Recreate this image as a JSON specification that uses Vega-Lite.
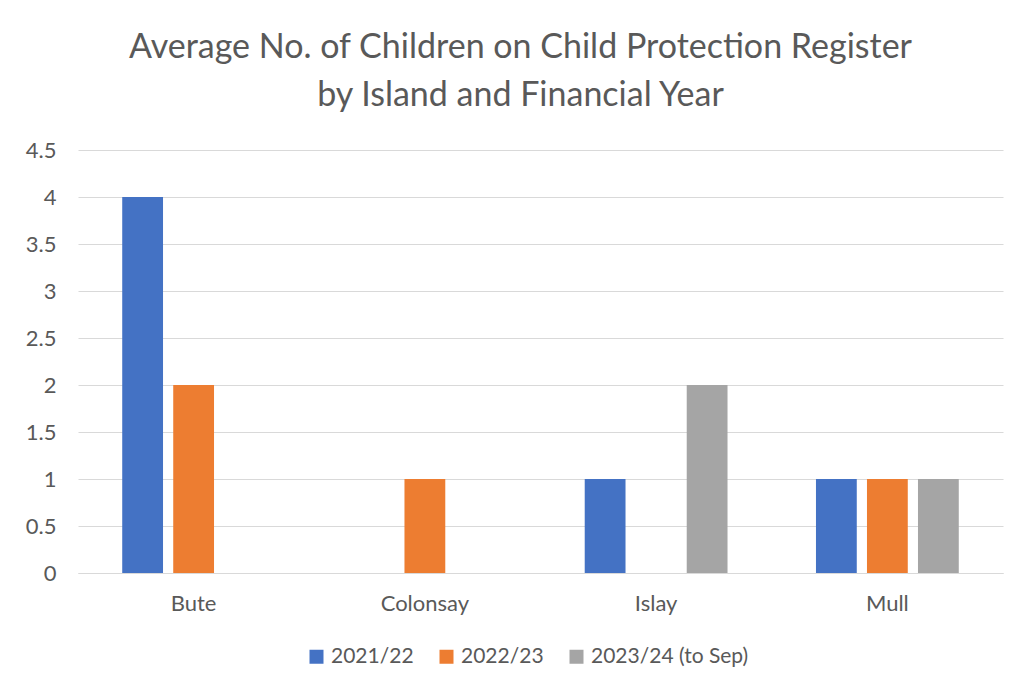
{
  "$schema": "https://vega.github.io/schema/vega-lite/v6.json",
  "autosize": {"type": "none"},
  "width": 925,
  "height": 423,
  "padding": {"left": 78, "top": 150, "right": 33, "bottom": 122},
  "background": "white",
  "title": {
    "text": ["Average No. of Children on Child Protection Register", "by Island and Financial Year"],
    "font": "Lato",
    "fontSize": 34,
    "fontWeight": "normal",
    "color": "#595959",
    "anchor": "middle",
    "dx": -20,
    "offset": 26,
    "lineHeight": 48
  },
  "data": {
    "values": [
      {"island": "Bute", "year": "2021/22", "value": 4},
      {"island": "Bute", "year": "2022/23", "value": 2},
      {"island": "Colonsay", "year": "2022/23", "value": 1},
      {"island": "Islay", "year": "2021/22", "value": 1},
      {"island": "Islay", "year": "2023/24 (to Sep)", "value": 2},
      {"island": "Mull", "year": "2021/22", "value": 1},
      {"island": "Mull", "year": "2022/23", "value": 1},
      {"island": "Mull", "year": "2023/24 (to Sep)", "value": 1}
    ]
  },
  "mark": {"type": "bar"},
  "encoding": {
    "x": {
      "field": "island",
      "type": "nominal",
      "sort": ["Bute", "Colonsay", "Islay", "Mull"],
      "scale": {"paddingInner": 0, "paddingOuter": 0},
      "axis": {
        "title": null,
        "labelAngle": 0,
        "ticks": false,
        "labelPadding": 20,
        "labelFont": "Lato",
        "labelFontSize": 22,
        "labelColor": "#595959",
        "domainColor": "#d9d9d9",
        "grid": false
      }
    },
    "xOffset": {
      "field": "year",
      "type": "nominal",
      "scale": {"domain": ["2021/22", "2022/23", "2023/24 (to Sep)"], "paddingInner": 0.2, "paddingOuter": 0.867}
    },
    "y": {
      "field": "value",
      "type": "quantitative",
      "scale": {"domain": [0, 4.5]},
      "axis": {
        "title": null,
        "values": [0, 0.5, 1, 1.5, 2, 2.5, 3, 3.5, 4, 4.5],
        "format": "~g",
        "ticks": false,
        "domain": false,
        "labelPadding": 22,
        "labelFont": "Lato",
        "labelFontSize": 22,
        "labelColor": "#595959",
        "gridColor": "#d9d9d9"
      }
    },
    "color": {
      "field": "year",
      "type": "nominal",
      "scale": {"domain": ["2021/22", "2022/23", "2023/24 (to Sep)"], "range": ["#4472C4", "#ED7D31", "#A5A5A5"]},
      "legend": {
        "orient": "none",
        "legendX": 228,
        "legendY": 496,
        "direction": "horizontal",
        "title": null,
        "symbolType": "square",
        "symbolSize": 196,
        "symbolStrokeWidth": 0,
        "labelOffset": 4,
        "labelLimit": 400,
        "labelFont": "Lato",
        "labelFontSize": 21,
        "labelColor": "#595959",
        "columnPadding": 22
      }
    }
  },
  "config": {"view": {"stroke": null}}
}
